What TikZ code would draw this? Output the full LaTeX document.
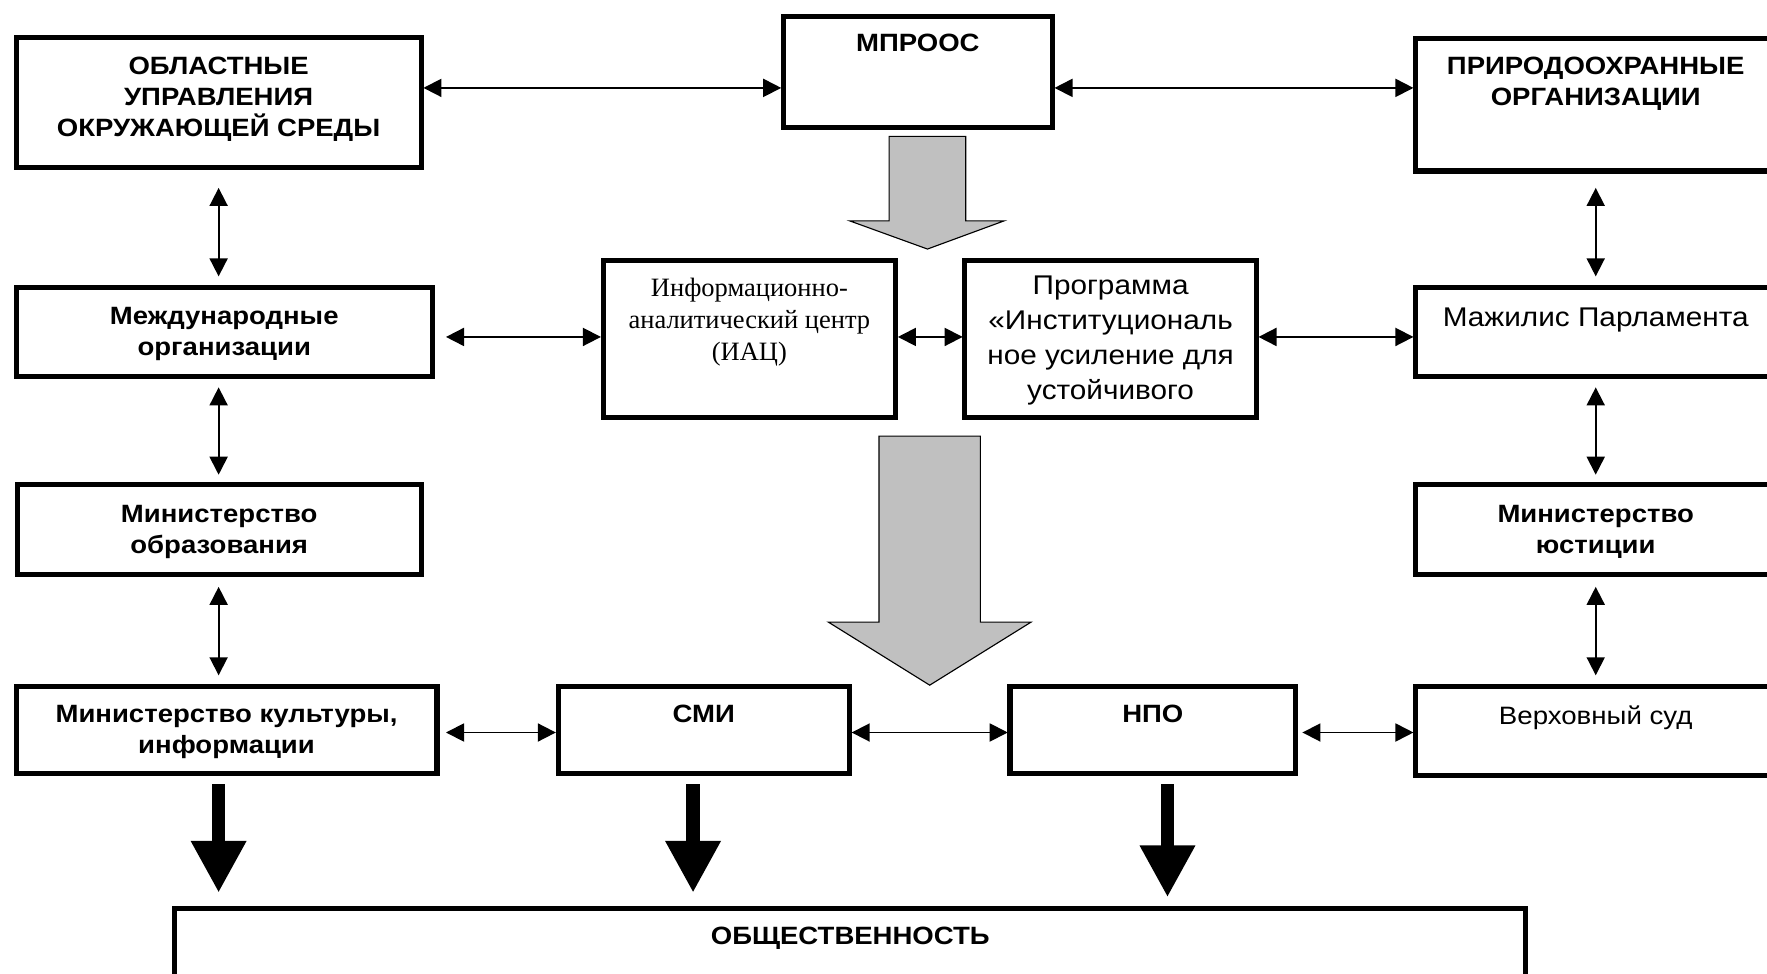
\documentclass[tikz,border=0pt]{standalone}
\usepackage{fontspec}
\setmainfont[FakeStretch=1.1]{Liberation Sans}
\newfontfamily\tnr{Liberation Serif}
\usetikzlibrary{arrows.meta}
\newcommand\mkbox[5]{\node[box, minimum width={#4-#2-4.5}, minimum height={#5-#3-4.5}] (#1) at ({(#2+#4)/2},{(#3+#5)/2}) {};}
\begin{document}
\begin{tikzpicture}[x=1pt,y=-1pt,
  box/.style={draw, line width=4.5pt, inner sep=0pt, outer sep=0pt, fill=white},
  lbl/.style={anchor=north, inner sep=0pt, outer sep=0pt, align=center},
  bf/.style={font=\fontsize{22.2}{27.5}\selectfont\bfseries},
  rg/.style={font=\fontsize{24}{31}\selectfont},
  rgs/.style={font=\fontsize{22.3}{28}\selectfont},
  tm/.style={font=\tnr\fontsize{23.5}{28.5}\selectfont},
  dbl/.style={line width=1.6pt, {Triangle[length=16pt,width=16pt]}-{Triangle[length=16pt,width=16pt]}},
  fat/.style={line width=12pt, -{Triangle[length=46pt,width=46pt]}},
  grey/.style={draw=black, line width=1pt, fill={rgb,255:red,192;green,192;blue,192}}
]
\fill[white] (0,0) rectangle (1568,864.3);
\useasboundingbox (0,0) rectangle (1568,864.3);

% boxes
\mkbox{obl}{12}{31}{376}{151}
\mkbox{mp}{693}{12}{936}{115}
\mkbox{pri}{1254}{32}{1578}{154}
\mkbox{mezh}{12}{253}{386}{336}
\mkbox{iac}{533}{229}{797}{373}
\mkbox{prog}{854}{229}{1117}{373}
\mkbox{mazh}{1254}{253}{1578}{336}
\mkbox{mobr}{13}{428}{376}{512}
\mkbox{myust}{1254}{428}{1578}{512}
\mkbox{mkult}{12}{607}{390}{689}
\mkbox{smi}{493}{607}{756}{689}
\mkbox{npo}{894}{607}{1152}{689}
\mkbox{verh}{1254}{607}{1578}{690}
\mkbox{obsh}{153}{804}{1356}{880}

% texts
\node[lbl,bf] (tobl) at (194,51) {ОБЛАСТНЫЕ\\УПРАВЛЕНИЯ\\ОКРУЖАЮЩЕЙ СРЕДЫ};
\node[lbl,bf] (tmp) at (814.5,30) {МПРООС};
\node[lbl,bf] (tpri) at (1416,51) {ПРИРОДООХРАННЫЕ\\ОРГАНИЗАЦИИ};
\node[lbl,bf] (tmezh) at (199,272.5) {Международные\\организации};
\node[lbl,tm] (tiac) at (665,247) {Информационно-\\аналитический центр\\(ИАЦ)};
\node[lbl,rg] (tprog) at (985.5,245) {Программа\\«Институциональ\\ное усиление для\\устойчивого};
\node[lbl,rg] (tmazh) at (1416,273) {Мажилис Парламента};
\node[lbl,bf] (tmobr) at (194.5,448) {Министерство\\образования};
\node[lbl,bf] (tmyust) at (1416,448) {Министерство\\юстиции};
\node[lbl,bf] (tmkult) at (201,626) {Министерство культуры,\\информации};
\node[lbl,bf] (tsmi) at (624.5,626) {СМИ};
\node[lbl,bf] (tnpo) at (1023,626) {НПО};
\node[lbl,rgs] (tverh) at (1416,626) {Верховный суд};
\node[lbl,bf] (tobsh) at (754.5,823) {ОБЩЕСТВЕННОСТЬ};

% reference levels
\coordinate (r1) at (0,78);
\coordinate (r2) at (0,299);
\coordinate (r3) at (0,650);
\coordinate (lx) at (194,0);
\coordinate (rx) at (1416,0);
\coordinate (f1) at (194,0);
\coordinate (f2) at (615,0);
\coordinate (f3) at (1036,0);

% horizontal double arrows
\draw[dbl, shorten <=2pt, shorten >=2pt] (obl.east |- r1) -- (mp.west |- r1);
\draw[dbl, shorten <=2pt, shorten >=2pt] (mp.east |- r1) -- (pri.west |- r1);
\draw[dbl, shorten <=12pt, shorten >=2pt] (mezh.east |- r2) -- (iac.west |- r2);
\draw[dbl, shorten <=2pt, shorten >=2pt] (iac.east |- r2) -- (prog.west |- r2);
\draw[dbl, shorten <=2pt, shorten >=2pt] (prog.east |- r2) -- (mazh.west |- r2);
\draw[dbl, shorten <=8pt, shorten >=2pt] (mkult.east |- r3) -- (smi.west |- r3);
\draw[dbl, shorten <=2pt, shorten >=2pt] (smi.east |- r3) -- (npo.west |- r3);
\draw[dbl, shorten <=6pt, shorten >=2pt] (npo.east |- r3) -- (verh.west |- r3);

% vertical double arrows
\draw[dbl, shorten <=18pt, shorten >=10pt] (obl.south -| lx) -- (mezh.north -| lx);
\draw[dbl, shorten <=10pt, shorten >=9pt] (mezh.south -| lx) -- (mobr.north -| lx);
\draw[dbl, shorten <=11pt, shorten >=10pt] (mobr.south -| lx) -- (mkult.north -| lx);
\draw[dbl, shorten <=15pt, shorten >=10pt] (pri.south -| rx) -- (mazh.north -| rx);
\draw[dbl, shorten <=10pt, shorten >=9pt] (mazh.south -| rx) -- (myust.north -| rx);
\draw[dbl, shorten <=11pt, shorten >=10pt] (myust.south -| rx) -- (verh.north -| rx);

% thick black arrows
\draw[fat, shorten <=9pt, shorten >=14pt] (mkult.south -| f1) -- (obsh.north -| f1);
\draw[fat, shorten <=9pt, shorten >=14pt] (smi.south -| f2) -- (obsh.north -| f2);
\draw[fat, shorten <=9pt, shorten >=10pt] (npo.south -| f3) -- (obsh.north -| f3);

% grey block arrows
\path[grey] (789,121) -- (857,121) -- (857,196) -- (891,196) -- (823,221) -- (754,196) -- (789,196) -- cycle;
\path[grey] (780,387) -- (870,387) -- (870,552) -- (915,552) -- (825,608) -- (735,552) -- (780,552) -- cycle;
\end{tikzpicture}
\end{document}
